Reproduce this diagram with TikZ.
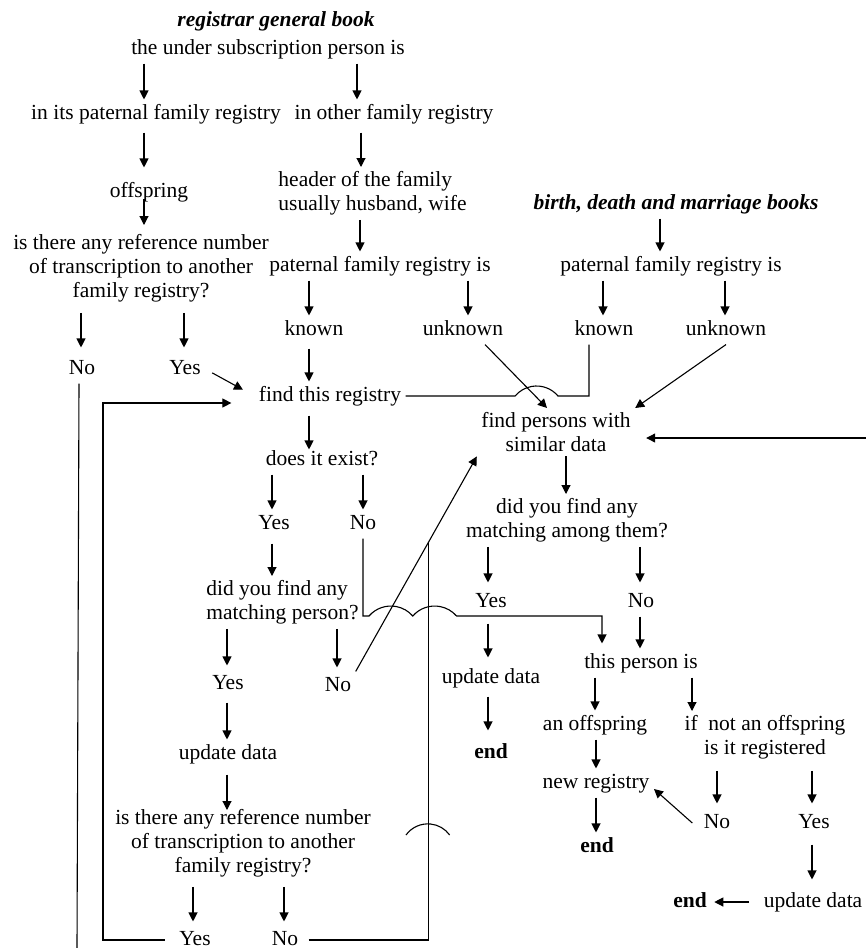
\documentclass[tikz,border=0pt]{standalone}
\usepackage{fontspec}
\setmainfont{Liberation Serif}
\usetikzlibrary{arrows.meta, calc}

\begin{document}
\begin{tikzpicture}[x=1pt, y=-1pt, line width=1.1pt,
	txt/.style = {inner sep=4pt, anchor=base, text height=15pt, text depth=5pt, font=\fontsize{21.5}{24}\selectfont},
	ttl/.style = {txt, font=\fontsize{21.5}{24}\selectfont\bfseries\itshape},
	fin/.style = {txt, font=\fontsize{21.5}{24}\selectfont\bfseries},
	two/.style = {inner sep=4pt, anchor=north, align=center, font=\fontsize{21.5}{24}\selectfont},
	arr/.style = {-{Triangle[length=9pt, width=9pt]}}]
			
			\useasboundingbox (0,0) rectangle (866,948);
			
			\node[ttl] (rgb) at (276,26) {registrar general book};
			\node[txt] (sub) at (268,54) {the under subscription person is};
			\node[txt] (inpat) at (156,119) {in its paternal family registry};
			\node[txt] (inoth) at (394,119) {in other family registry};
			\node[txt] (offs) at (149,197) {offspring};
			\node[two, align=left] (head) at (372.5,167) {header of the family\\usually husband, wife};
			\node[two] (ref1) at (141,230) {is there any reference number\\of transcription to another\\family registry?};
			\node[txt] (pfr1) at (380,271) {paternal family registry is};
			
			\node[ttl] (bdm) at (676,209) {birth, death and marriage books};
			\node[txt] (pfr2) at (671,271) {paternal family registry is};
			
			\node[txt] (kn1) at (314,335) {known};
			\node[txt] (unk1) at (463,335) {unknown};
			\node[txt] (kn2) at (604,335) {known};
			\node[txt] (unk2) at (726,335) {unknown};
			\node[txt] (no1) at (82,374) {No};
			\node[txt] (yes1) at (185,374) {Yes};
			\node[txt] (fthis) at (330,401) {find this registry};
			\node[two] (fpers) at (556,408) {find persons with\\similar data};
			\node[txt] (exist) at (322,465) {does it exist?};
			\node[txt] (yes2) at (274,529) {Yes};
			\node[txt] (no2) at (363,529) {No};
			\node[two] (match2) at (567,494) {did you find any\\matching among them?};
			\node[two, align=left] (match1) at (282.5,576) {did you find any\\matching person?};
			\node[txt] (yes5) at (491,607) {Yes};
			\node[txt] (no5) at (641,607) {No};
			\node[txt] (pers) at (641,668) {this person is};
			\node[txt] (upd2) at (491,683) {update data};
			\node[txt] (yes3) at (228,689) {Yes};
			\node[txt] (no3) at (338,691) {No};
			\node[fin] (end1) at (491,758) {end};
			\node[txt] (offs2) at (595,730) {an offspring};
			\node[two] (ifnot) at (765,711) {if~ not an offspring\\is it registered};
			\node[txt] (upd1) at (228,759) {update data};
			\node[txt] (newr) at (596,788) {new registry};
			\node[two] (ref2) at (243,805) {is there any reference number\\of transcription to another\\family registry?};
			\node[txt] (no6) at (717,828) {No};
			\node[txt] (yes6) at (814,828) {Yes};
			\node[fin] (end2) at (597,852) {end};
			\node[txt] (upd3) at (813,907) {update data};
			\node[fin] (end3) at (690,907) {end};
			\node[txt] (yes4) at (195,945) {Yes};
			\node[txt] (no4) at (285,945) {No};
			
			\coordinate (lp) at (103,403);
			\coordinate (rin) at (866,438);
			\coordinate (jn) at ($(no3.north east)!0.6!(fpers.south west)$);
			
			\draw[arr] (sub.south -| 144,0) -- (inpat.north -| 144,0);
			\draw[arr] (sub.south -| 357,0) -- (inoth.north -| 357,0);
			\draw[arr, shorten <=4pt, shorten >=10pt] (inpat.south -| 144,0) -- (offs.north -| 144,0);
			\draw[arr, shorten <=4pt] (inoth.south -| 361,0) -- (head.north -| 361,0);
			\draw[arr, shorten <=-8pt, shorten >=5pt] (offs.south -| 144,0) -- (ref1.north -| 144,0);
			\draw[arr] (head.south -| 360,0) -- (pfr1.north -| 360,0);
			\draw[arr, shorten <=6pt, shorten >=7pt] (ref1.south -| 81,0) -- (no1.north -| 81,0);
			\draw[arr, shorten <=6pt, shorten >=7pt] (ref1.south -| 184,0) -- (yes1.north -| 184,0);
			\draw[arr] (pfr1.south -| 309,0) -- (kn1.north -| 309,0);
			\draw[arr] (pfr1.south -| 468,0) -- (unk1.north -| 468,0);
			\draw[arr] (bdm.south -| 660,0) -- (pfr2.north -| 660,0);
			\draw[arr] (pfr2.south -| 603,0) -- (kn2.north -| 603,0);
			\draw[arr] (pfr2.south -| 725,0) -- (unk2.north -| 725,0);
			
			\draw[arr, shorten <=4pt] (kn1.south -| 309,0) -- (fthis.north -| 309,0);
			\draw[arr, shorten <=8pt, shorten >=13pt] (yes1.east) -- (fthis.west);
			\draw[arr] ([xshift=22pt]unk1.south) -- ([xshift=-9pt]fpers.north);
			\draw[arr] (unk2.south) -- (fpers.north east);
			\draw (kn2.south -| 589,0) |- (fthis.east -| 558,0) arc[start angle=40, end angle=140, radius=28pt] -- (fthis.east);
			\draw[arr, shorten >=11pt] (rin) -- (rin -| fpers.east);
			
			\draw[arr, shorten <=5pt, shorten >=-4pt] (fthis.south -| 309,0) -- (exist.north -| 309,0);
			\draw[arr] (exist.south -| 272,0) -- (yes2.north -| 272,0);
			\draw[arr] (exist.south -| 363,0) -- (no2.north -| 363,0);
			\draw[arr, shorten <=5pt] (yes2.south -| 272,0) -- (match1.north -| 272,0);
			\draw[arr] (fpers.south -| 566,0) -- (match2.north -| 566,0);
			\draw[arr, shorten >=5pt] (match2.south -| 488,0) -- (yes5.north -| 488,0);
			\draw[arr, shorten >=5pt] (match2.south -| 640,0) -- (no5.north -| 640,0);
			\draw[arr, shorten >=5pt] (no2.south -| 363,0) |- (369,616) arc[start angle=139, end angle=41, radius=29pt] arc[start angle=139, end angle=41, radius=29pt] -- (602,616) -- (pers.north -| 602,0);
			
			\draw[arr, shorten >=4pt] (match1.south -| 227,0) -- (yes3.north -| 227,0);
			\draw[arr, shorten >=4pt] (match1.south -| 337,0) -- (no3.north -| 337,0);
			\draw[arr] (no3.north east) -- (fpers.south west);
			\draw[arr, shorten <=7pt, shorten >=6pt] (yes5.south -| 488,0) -- (upd2.north -| 488,0);
			\draw[arr] (no5.south -| 640,0) -- (pers.north -| 640,0);
			\draw[arr, shorten <=4pt, shorten >=8pt] (upd2.south -| 488,0) -- (end1.north -| 488,0);
			\draw[arr] (pers.south -| 595,0) -- (offs2.north -| 595,0);
			\draw[arr] (pers.south -| 692,0) -- (ifnot.north -| 692,0);
			
			\draw[arr, shorten <=4pt] (yes3.south -| 227,0) -- (upd1.north -| 227,0);
			\draw[arr, shorten <=6pt, shorten >=-5pt] (upd1.south -| 227,0) -- (ref2.north -| 227,0);
			\draw[arr] (offs2.south -| 596,0) -- (newr.north -| 596,0);
			\draw[arr, shorten <=7pt, shorten >=5pt] (ifnot.south -| 717,0) -- (no6.north -| 717,0);
			\draw[arr, shorten <=7pt, shorten >=5pt] (ifnot.south -| 812,0) -- (yes6.north -| 812,0);
			\draw[arr] (newr.south -| 596,0) -- (end2.north -| 596,0);
			\draw[arr] ([xshift=-7pt]no6.west) -- ([yshift=-6pt]newr.east);
			\draw[arr, shorten <=7pt, shorten >=8pt] (yes6.south -| 812,0) -- (upd3.north -| 812,0);
			\draw[arr, shorten <=10pt, shorten >=3pt] (upd3.west) -- (end3.east);
			
			\draw[arr, shorten <=5pt, shorten >=4pt] (ref2.south -| 193,0) -- (yes4.north -| 193,0);
			\draw[arr, shorten <=5pt, shorten >=4pt] (ref2.south -| 284,0) -- (no4.north -| 284,0);
			\draw[arr, shorten <=10pt, shorten >=23pt] (yes4.west) -| (lp) -- (lp -| fthis.west);
			\draw[shorten <=6pt] (no4.east) -| (jn);
			\draw (406,835) arc[start angle=144, end angle=36, radius=27pt];
			\draw (no1.south -| 79,0) -- (77,948);
			
		\end{tikzpicture}
\end{document}
